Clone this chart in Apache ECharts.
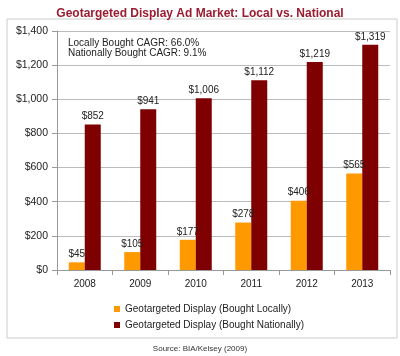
<!DOCTYPE html>
<html><head><meta charset="utf-8">
<script src="https://cdn.jsdelivr.net/npm/echarts@6/dist/echarts.min.js"></script>
<style>html,body{margin:0;padding:0;background:#fff}#c{width:400px;height:356px}</style>
</head><body><div id="c"></div>
<script>
const categories = ['2008','2009','2010','2011','2012','2013'];
const localValues = [45, 105, 177, 278, 406, 565];
const nationalValues = [852, 941, 1006, 1112, 1219, 1319];
const seriesNames = ['Geotargeted Display (Bought Locally)', 'Geotargeted Display (Bought Nationally)'];
const yTicks = [0, 200, 400, 600, 800, 1000, 1200, 1400];
const titleText = 'Geotargeted Display Ad Market: Local vs. National';
const noteLines = ['Locally Bought CAGR: 66.0%', 'Nationally Bought CAGR: 9.1%'];
const sourceText = 'Source: BIA/Kelsey (2009)';

const fmt = v => '$' + v.toLocaleString('en-US');
const chart = echarts.init(document.getElementById('c'));
const font = 'Arial, "Liberation Sans", sans-serif';
chart.setOption({
  animation: false,
  textStyle: { fontFamily: font },
  title: { text: titleText, left: 'center', top: 3,
    textStyle: { color: '#9B1B30', fontSize: 12, fontWeight: 'bold', fontFamily: font } },
  grid: { left: 57, right: 10, top: 31, bottom: 86 },
  xAxis: { type: 'category', data: categories,
    axisLine: { lineStyle: { color: '#999' } },
    axisTick: { show: true, lineStyle: { color: '#999' } },
    axisLabel: { color: '#222', fontSize: 10, margin: 9 } },
  yAxis: { type: 'value', min: yTicks[0], max: yTicks[yTicks.length-1], interval: 200,
    axisLine: { show: true, lineStyle: { color: '#999' } },
    axisTick: { show: true, lineStyle: { color: '#999' } },
    splitLine: { lineStyle: { color: '#bbb' } },
    axisLabel: { color: '#222', fontSize: 10.5, formatter: v => fmt(v), margin: 9 } },
  legend: { orient: 'vertical', left: 114, top: 304, padding: 0, itemWidth: 6, itemHeight: 6, itemGap: 6,
    icon: 'rect', textStyle: { fontSize: 10, color: '#222' }, data: seriesNames },
  series: [
    { name: seriesNames[0], type: 'bar', data: localValues, barWidth: 16, barGap: '0%',
      itemStyle: { color: '#FF9900' },
      label: { show: true, position: 'top', distance: 3, formatter: p => fmt(p.value), color: '#222', fontSize: 10 } },
    { name: seriesNames[1], type: 'bar', data: nationalValues, barWidth: 16,
      itemStyle: { color: '#7F0000' },
      label: { show: true, position: 'top', distance: 3, formatter: p => fmt(p.value), color: '#222', fontSize: 10 } }
  ],
  graphic: [
    { type: 'rect', shape: { x: 7, y: 19, width: 390, height: 319 }, silent: true, z: -1,
      style: { fill: 'none', stroke: '#ccc', lineWidth: 1 } },
    { type: 'text', left: 68, top: 38, style: { text: noteLines.join('\n'), fontSize: 10, lineHeight: 10, fill: '#222', fontFamily: font } },
    { type: 'text', left: 'center', top: 345, style: { text: sourceText, fontSize: 8, fill: '#333', fontFamily: font } }
  ]
});
</script></body></html>
